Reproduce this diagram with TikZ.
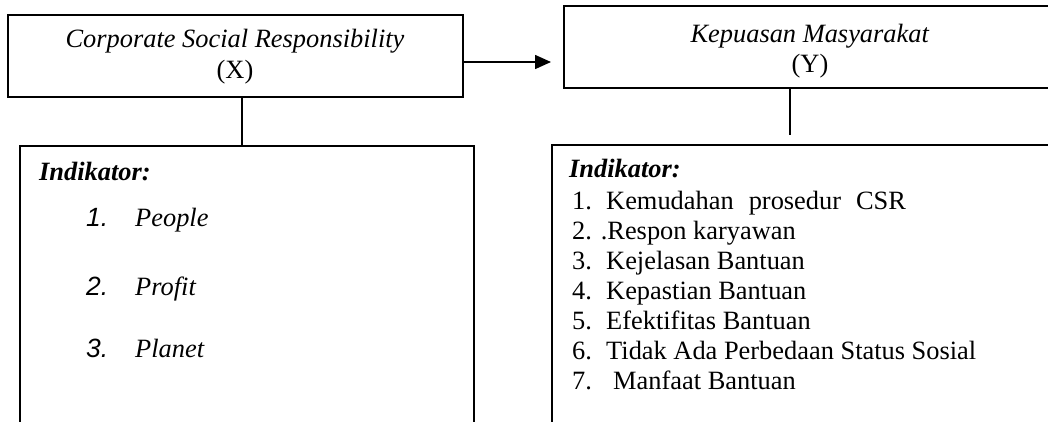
\documentclass[tikz,border=0pt]{standalone}
\usepackage{fontspec}
\setmainfont{Liberation Serif}
\newfontfamily\numfont{Liberation Sans}
\usetikzlibrary{arrows.meta}
\tikzset{%
    frame/.style={draw, line width=1.6pt, inner sep=0pt, anchor=north west}
}

\begin{document}
\begin{tikzpicture}[
        x=1pt, y=-1pt,
        txt/.style={inner sep=0pt, anchor=base west, font=\fontsize{26.4}{30.4}\selectfont},
        ttl/.style={txt, anchor=base},
        link/.style={line width=1.6pt}
        ]
        \useasboundingbox (0,0) rectangle (1048,421);
        \clip (0,0) rectangle (1048,421);

        \node[frame, minimum width=455pt, minimum height=82pt] (csr) at (7,14) {};
        \node[frame, minimum width=540pt, minimum height=82pt] (kep) at (563,5) {};
        \node[frame, minimum width=454pt, minimum height=320pt] (csrind) at (19,145) {};
        \node[frame, minimum width=540pt, minimum height=320pt] (kepind) at (551,144) {};

        \node[ttl] (csrname) at (235,47) {\textit{Corporate Social Responsibility}};
        \node[ttl] (csrsym) at (235,78) {(X)};
        \node[ttl] (kepname) at (810,42) {\textit{Kepuasan Masyarakat}};
        \node[ttl] (kepsym) at (810,72) {(Y)};

        \coordinate (ah) at (0,62);
        \coordinate (xl) at (242,0);
        \coordinate (yl) at (790,0);
        \draw[link, -{Triangle[length=16pt, width=14pt]}, shorten >=12pt] (csr.east |- ah) -- (kep.west |- ah);
        \draw[link] (csr.south -| xl) -- (csrind.north -| xl);
        \draw[link, shorten >=9pt] (kep.south -| yl) -- (kepind.north -| yl);

        \node[txt] (csrhead) at (39,180) {\textbf{\textit{Indikator:}}};
        \node[txt] (n1) at (86,226) {\numfont\itshape 1.};
        \node[txt] (people) at (135,226) {\textit{People}};
        \node[txt] (n2) at (86,295) {\numfont\itshape 2.};
        \node[txt] (profit) at (135,295) {\textit{Profit}};
        \node[txt] (n3) at (86,357) {\numfont\itshape 3.};
        \node[txt] (planet) at (135,357) {\textit{Planet}};

        \node[txt] (kephead) at (569,177) {\textbf{\textit{Indikator:}}};
        \node[txt] (m1) at (572,209) {1.};
        \node[txt] (prosedur) at (606,209) {Kemudahan\hspace{15pt}prosedur\hspace{15pt}CSR};
        \node[txt] (respon) at (572,239) {2. .Respon karyawan};
        \node[txt] (m3) at (572,269) {3.};
        \node[txt] (kejelasan) at (606,269) {Kejelasan Bantuan};
        \node[txt] (m4) at (572,299) {4.};
        \node[txt] (kepastian) at (606,299) {Kepastian Bantuan};
        \node[txt] (m5) at (572,329) {5.};
        \node[txt] (efektif) at (606,329) {Efektifitas Bantuan};
        \node[txt] (m6) at (572,359) {6.};
        \node[txt] (status) at (606,359) {Tidak Ada Perbedaan Status Sosial};
        \node[txt] (m7) at (572,389) {7.};
        \node[txt] (manfaat) at (613,389) {Manfaat Bantuan};
    \end{tikzpicture}
\end{document}
